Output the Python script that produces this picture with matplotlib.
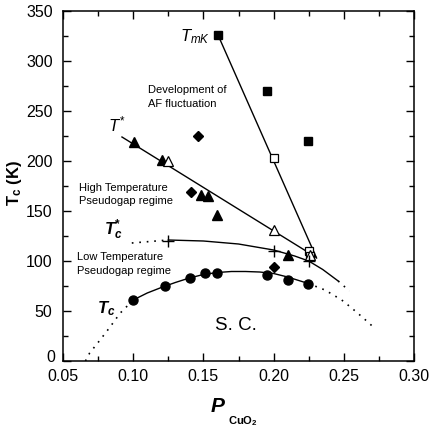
import matplotlib
matplotlib.use("Agg")
import matplotlib.pyplot as plt
from matplotlib.ticker import MultipleLocator

plt.rcParams['font.family'] = ['Liberation Sans', 'DejaVu Sans']
plt.rcParams['mathtext.fontset'] = 'custom'
plt.rcParams['mathtext.rm'] = 'Liberation Sans'
plt.rcParams['mathtext.it'] = 'Liberation Sans:italic'
plt.rcParams['mathtext.bf'] = 'Liberation Sans:bold'
plt.rcParams['mathtext.bfit'] = 'Liberation Sans:italic:bold'

# --- data ---
# T_mK line and squares
tmk_line_p = [0.1604, 0.2306]
tmk_line_t = [326, 103]
sq_fill_p = [0.1604, 0.195, 0.2245]
sq_fill_t = [326, 270, 220]
sq_open_p = [0.200, 0.225, 0.226]
sq_open_t = [203, 110, 105]

# T* line and triangles
tstar_line_p = [0.092, 0.230]
tstar_line_t = [224, 104]
tri_fill_p = [0.1006, 0.1205, 0.148, 0.153, 0.160, 0.2105]
tri_fill_t = [219, 201, 166, 165, 146, 106]
tri_open_p = [0.125, 0.200, 0.226]
tri_open_t = [200, 131, 106]

# diamonds
dia_p = [0.146, 0.141, 0.2003]
dia_t = [225, 169, 94]

# Tc* curve and crosses
tcs_curve_p = [0.125, 0.150, 0.175, 0.200, 0.215, 0.225, 0.235, 0.246]
tcs_curve_t = [121, 120, 117, 111, 105, 100, 91.5, 80]
tcs_dot_left_p = [0.099, 0.125]
tcs_dot_left_t = [118, 121]
tcs_dot_right_p = [0.246, 0.254]
tcs_dot_right_t = [80, 70]
cross_p = [0.125, 0.200, 0.225]
cross_t = [120, 110, 100]

# Tc curve and circles
tc_curve_p = [0.10, 0.11, 0.12, 0.13, 0.14, 0.15, 0.16, 0.17, 0.18, 0.19, 0.20, 0.21, 0.2247]
tc_curve_t = [61, 68, 73.5, 78.5, 83, 86.5, 88.5, 89.5, 89.5, 89, 87.5, 84, 77.5]
tc_dot_left_p = [0.066, 0.069, 0.0764, 0.0835, 0.0906, 0.100]
tc_dot_left_t = [0, 8, 21, 34, 47.7, 61]
tc_dot_right_p = [0.2247, 0.2366, 0.2485, 0.2556, 0.2639, 0.271]
tc_dot_right_t = [77.5, 71, 61, 53, 43, 34]
circ_p = [0.100, 0.1227, 0.1405, 0.151, 0.160, 0.1955, 0.2105, 0.2247]
circ_t = [61, 75, 83, 88, 88, 86, 81, 77]

y_ticks = [0, 50, 100, 150, 200, 250, 300, 350]
x_ticks = [0.05, 0.10, 0.15, 0.20, 0.25, 0.30]

fig = plt.figure(figsize=(4.30, 4.28), dpi=100)
ax = fig.add_axes([63 / 430, 1 - 361 / 428, 351 / 430, 350 / 428])

lw = 1.0
dots = (0, (1, 3.5))

# lines
ax.plot(tmk_line_p, tmk_line_t, color='black', lw=lw)
ax.plot(tstar_line_p, tstar_line_t, color='black', lw=lw)
ax.plot(tcs_curve_p, tcs_curve_t, color='black', lw=lw)
ax.plot(tcs_dot_left_p, tcs_dot_left_t, color='black', lw=1.2, ls=dots)
ax.plot(tcs_dot_right_p, tcs_dot_right_t, color='black', lw=1.2, ls=dots)
ax.plot(tc_curve_p, tc_curve_t, color='black', lw=lw)
ax.plot(tc_dot_left_p, tc_dot_left_t, color='black', lw=1.2, ls=dots)
ax.plot(tc_dot_right_p, tc_dot_right_t, color='black', lw=1.2, ls=dots)

# markers
ax.plot(sq_fill_p, sq_fill_t, 's', color='black', ms=5.5)
ax.plot(sq_open_p, sq_open_t, 's', mfc='white', mec='black', mew=0.9, ms=5.5)
ax.plot(tri_fill_p, tri_fill_t, '^', color='black', ms=6.5)
ax.plot(tri_open_p, tri_open_t, '^', mfc='white', mec='black', mew=0.9, ms=6.5)
ax.plot(dia_p, dia_t, 'D', color='black', ms=5.3)
ax.plot(cross_p, cross_t, '+', color='black', ms=8, mew=1.0)
ax.plot(circ_p, circ_t, 'o', color='black', ms=6.5)

# annotations
ax.text(0.133, 320, r"$T_{mK}$", fontsize=12, ha='left', va='baseline')
ax.text(0.1105, 264, "Development of\nAF fluctuation", fontsize=8, ha='left', va='center', linespacing=1.45)
ax.text(0.082, 230, r"$T^{*}$", fontsize=12, ha='left', va='baseline')
ax.text(0.0614, 166.5, "High Temperature\nPseudogap regime", fontsize=8, ha='left', va='center', linespacing=1.45)
ax.text(0.0795, 126, r"$\mathbfit{T}_{\mathbfit{c}}^{\mathbf{*}}$", fontsize=12, ha='left', va='baseline')
ax.text(0.0597, 97, "Low Temperature\nPseudogap regime", fontsize=8, ha='left', va='center', linespacing=1.45)
ax.text(0.074, 48, r"$\mathbfit{T}_{\mathbfit{c}}$", fontsize=12, ha='left', va='baseline')
ax.text(0.173, 36, "S. C.", fontsize=13.5, ha='center', va='center')

# axes
ax.set_xlim(0.05, 0.30)
ax.set_ylim(0, 350)
ax.set_xticks(x_ticks, [f"{v:.2f}" for v in x_ticks])
# the "0" is drawn by hand a bit higher so it clears "0.05"
ax.set_yticks(y_ticks, [''] + [str(v) for v in y_ticks[1:]])
ax.text(0.05 - 7.5 / 1404, 3, "0", fontsize=11.5, ha='right', va='center', clip_on=False)
ax.xaxis.set_minor_locator(MultipleLocator(0.025))
ax.yaxis.set_minor_locator(MultipleLocator(25))
ax.tick_params(which='both', direction='in', top=True, right=True, width=1.0, labelsize=11.5)
ax.tick_params(axis='x', pad=6)
ax.tick_params(axis='y', pad=7.5)
ax.tick_params(which='major', length=6)
ax.tick_params(which='minor', length=3.5)
for s in ax.spines.values():
    s.set_linewidth(1.1)

# axis labels
fig.text(218 / 430, 1 - 407 / 428, "P", fontsize=15, fontweight='bold', style='italic', ha='center', va='center')
fig.text(228 / 430, 1 - 421 / 428, r"CuO$_\mathbf{2}$", fontsize=8, fontweight='bold', ha='left', va='center')
fig.text(14 / 430, 1 - 183 / 428, r"$\mathbf{T_c}$ (K)", fontsize=12, fontweight='bold', rotation=90, ha='center', va='center')

fig.savefig("out.png", dpi=100)
